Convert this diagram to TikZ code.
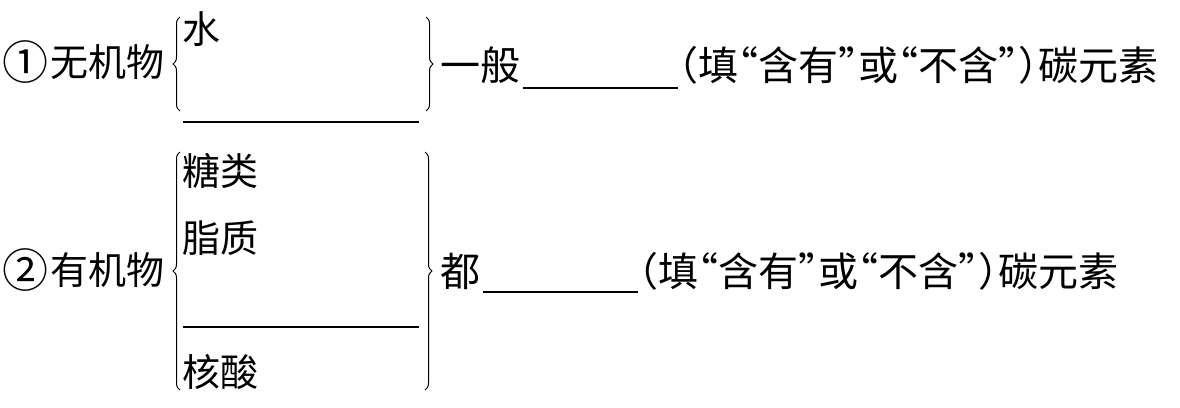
\documentclass[tikz,border=0pt]{standalone}
\usepackage{fontspec}
\setmainfont{Noto Sans CJK SC}[RawFeature=+halt]
\usetikzlibrary{decorations.pathreplacing}
\newcommand{\circnum}[1]{\raisebox{-3pt}{\fontsize{46pt}{46pt}\selectfont #1}\kern2.5pt}
\begin{document}
\begin{tikzpicture}[x=1pt,y=-1pt,
  txt/.style={inner sep=0pt,anchor=base west,font=\fontsize{40pt}{48pt}\selectfont},
  head/.style={inner sep=0pt,anchor=base west,font=\fontsize{38pt}{46pt}\selectfont},
  item/.style={inner sep=0pt,anchor=base west,font=\fontsize{38pt}{46pt}\selectfont},
  blank/.style={line width=1.2pt},
  lbrace/.style={decorate,decoration={brace,amplitude=7pt},line width=1pt},
  rbrace/.style={decorate,decoration={brace,amplitude=7pt},line width=1pt}]
\useasboundingbox (0,0) rectangle (1180,407);
% row 1
\node[head] (t1) at (2,76) {\circnum{①}无机物};
\coordinate (lb1t) at (180,17);
\coordinate (lb1b) at (180,111);
\draw[lbrace] (lb1b) -- (lb1t);
\node[item] (water) at (182,43) {水};
\coordinate (u1a) at (183,122);
\coordinate (u1b) at (419,122);
\draw[blank] (u1a) -- (u1b);
\coordinate (rb1t) at (426,17);
\coordinate (rb1b) at (426,111);
\draw[rbrace] (rb1t) -- (rb1b);
\node[txt] (g1) at (440,80) {一般};
\coordinate (v1a) at (523,88);
\coordinate (v1b) at (678,88);
\draw[blank] (v1a) -- (v1b);
\node[txt] (f1) at (678,80) {（填“含有”或“不含”）碳元素};
% row 2
\node[head] (t2) at (2,284) {\circnum{②}有机物};
\coordinate (lb2t) at (180,152);
\coordinate (lb2b) at (180,390);
\draw[lbrace] (lb2b) -- (lb2t);
\node[item] (sugar) at (182,185) {糖类};
\node[item] (lipid) at (182,252) {脂质};
\coordinate (u2a) at (183,327);
\coordinate (u2b) at (419,327);
\draw[blank] (u2a) -- (u2b);
\node[item] (nucl) at (182,386) {核酸};
\coordinate (rb2t) at (425,152);
\coordinate (rb2b) at (425,390);
\draw[rbrace] (rb2t) -- (rb2b);
\node[txt] (d2) at (440,286) {都};
\coordinate (v2a) at (483,292);
\coordinate (v2b) at (638,292);
\draw[blank] (v2a) -- (v2b);
\node[txt] (f2) at (638,286) {（填“含有”或“不含”）碳元素};
\end{tikzpicture}
\end{document}
